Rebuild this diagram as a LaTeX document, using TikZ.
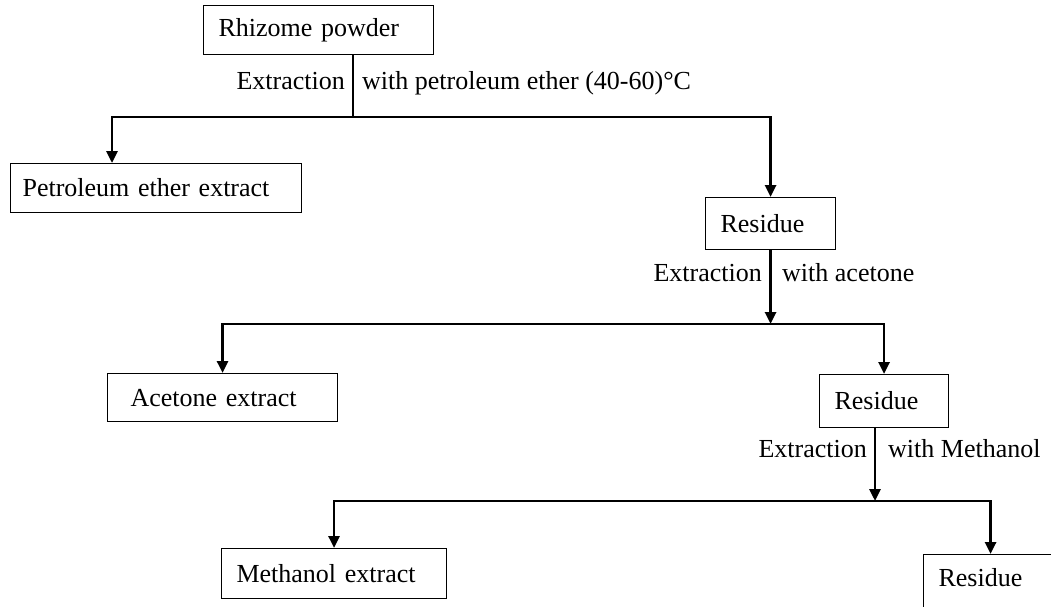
\documentclass[tikz,border=0pt]{standalone}
\usepackage{fontspec}
\setmainfont{Liberation Serif}
\usetikzlibrary{arrows.meta}

\tikzset{
  stepbox/.style={draw, line width=1.1pt, anchor=north west, align=left,
    inner xsep=15pt, inner ysep=0pt, font=\fontsize{26}{30}\selectfont},
  flow/.style={line width=2.8pt, -{Triangle[length=12pt,width=11pt]}},
  note/.style={inner sep=0pt, font=\fontsize{26}{30}\selectfont},
}

\begin{document}
\begin{tikzpicture}[x=1pt,y=-1pt]
\useasboundingbox (0,0) rectangle (1051,607);

% boxes
\node[stepbox, text width=200pt, minimum height=49pt] (rhz) at (203,5) {Rhizome powder};
\node[stepbox, inner xsep=12pt, text width=267pt, minimum height=49pt] (pet) at (10,163) {Petroleum ether extract};
\node[stepbox, text width=100pt, minimum height=52pt] (res1) at (705,197) {Residue};
\node[stepbox, inner xsep=23pt, text width=184pt, minimum height=48pt] (ace) at (107,373) {Acetone extract};
\node[stepbox, text width=99pt, minimum height=53pt] (res2) at (819,374) {Residue};
\node[stepbox, text width=195pt, minimum height=50pt] (meth) at (221,548) {Methanol extract};
\node[stepbox, text width=104pt, minimum height=58pt, text depth=12pt] (res3) at (923,554) {Residue};

% first split
\coordinate (j1) at (353,117);
\coordinate (a1) at (112,117);
\draw[line width=1.1pt] (j1 |- rhz.south) -- (j1);
\draw[flow] (j1) -- (a1) -- (a1 |- pet.north);
\draw[flow] (j1) -| (res1.north);
\node[note, anchor=base east] (ext1) at (345,90) {Extraction};
\node[note, anchor=base west] (with1) at (362,90) {with petroleum ether (40-60)°C};

% second split
\coordinate (j2) at (res1.south |- 0,324);
\draw[flow] (res1.south) -- (j2);
\draw[flow] (j2) -| (ace.north);
\draw[flow] (j2) -| (res2.north);
\node[note, anchor=base east] (ext2) at (762,281) {Extraction};
\node[note, anchor=base west] (with2) at (782,281) {with acetone};

% third split
\coordinate (j3) at (875,501);
\draw[flow] (j3 |- res2.south) -- (j3);
\draw[flow] (j3) -| (meth.north);
\draw[flow] (j3) -| (res3.north);
\node[note, anchor=base east] (ext3) at (867,457) {Extraction};
\node[note, anchor=base west] (with3) at (888,457) {with Methanol};

\end{tikzpicture}
\end{document}
